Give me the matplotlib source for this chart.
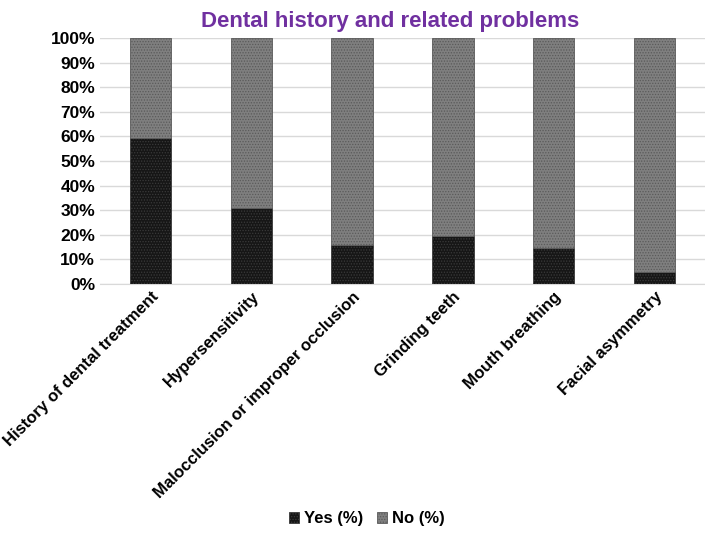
import matplotlib
matplotlib.use("Agg")
import matplotlib.pyplot as plt
from matplotlib.ticker import PercentFormatter

categories = [
    "History of dental treatment",
    "Hypersensitivity",
    "Malocclusion or improper occlusion",
    "Grinding teeth",
    "Mouth breathing",
    "Facial asymmetry",
]
yes_pct = [59.2, 30.9, 15.8, 19.6, 14.5, 4.9]
no_pct = [100 - v for v in yes_pct]

plt.rcParams["font.family"] = ["Liberation Sans", "DejaVu Sans"]
plt.rcParams["hatch.linewidth"] = 0.6

fig = plt.figure(figsize=(7.05, 5.35), dpi=100)
ax = fig.add_axes([0.142, 0.469, 0.858, 0.46])

x = range(len(categories))
plt.rcParams["hatch.color"] = "#555555"
b1 = ax.bar(x, yes_pct, width=0.41, color="#161616", edgecolor="#3a3a3a",
            linewidth=0.6, hatch="......", label="Yes (%)", zorder=3)
plt.rcParams["hatch.color"] = "#9a9a9a"
b2 = ax.bar(x, no_pct, bottom=yes_pct, width=0.41, color="#7f7f7f",
            edgecolor="#5a5a5a", linewidth=0.6, hatch="......", label="No (%)", zorder=3)

ax.set_xlim(-0.5, len(categories) - 0.5)
ax.set_ylim(0, 100)
ax.set_yticks(range(0, 101, 10))
ax.yaxis.set_major_formatter(PercentFormatter(decimals=0))
ax.grid(axis="y", color="#d9d9d9", linewidth=1, zorder=0)
for s in ax.spines.values():
    s.set_visible(False)
ax.spines["bottom"].set_visible(True)
ax.spines["bottom"].set_color("#d9d9d9")
ax.tick_params(axis="y", length=0, labelsize=12.5)
ax.tick_params(axis="x", length=0, labelsize=12)
ax.set_xticks(list(x))
ax.set_xticklabels(categories, rotation=45, ha="right", rotation_mode="anchor",
                   fontweight="bold")
for lbl in ax.get_yticklabels():
    lbl.set_fontweight("bold")

ax.set_title("Dental history and related problems", color="#7030A0",
             fontsize=16, fontweight="bold", pad=8, x=0.48)

fig.legend(handles=[b1, b2], loc="lower center", bbox_to_anchor=(0.52, -0.012),
           ncol=2, frameon=False, handlelength=0.6, handleheight=0.7,
           columnspacing=0.8, handletextpad=0.3,
           prop={"weight": "bold", "size": 12})

fig.savefig("out.png", dpi=100)
